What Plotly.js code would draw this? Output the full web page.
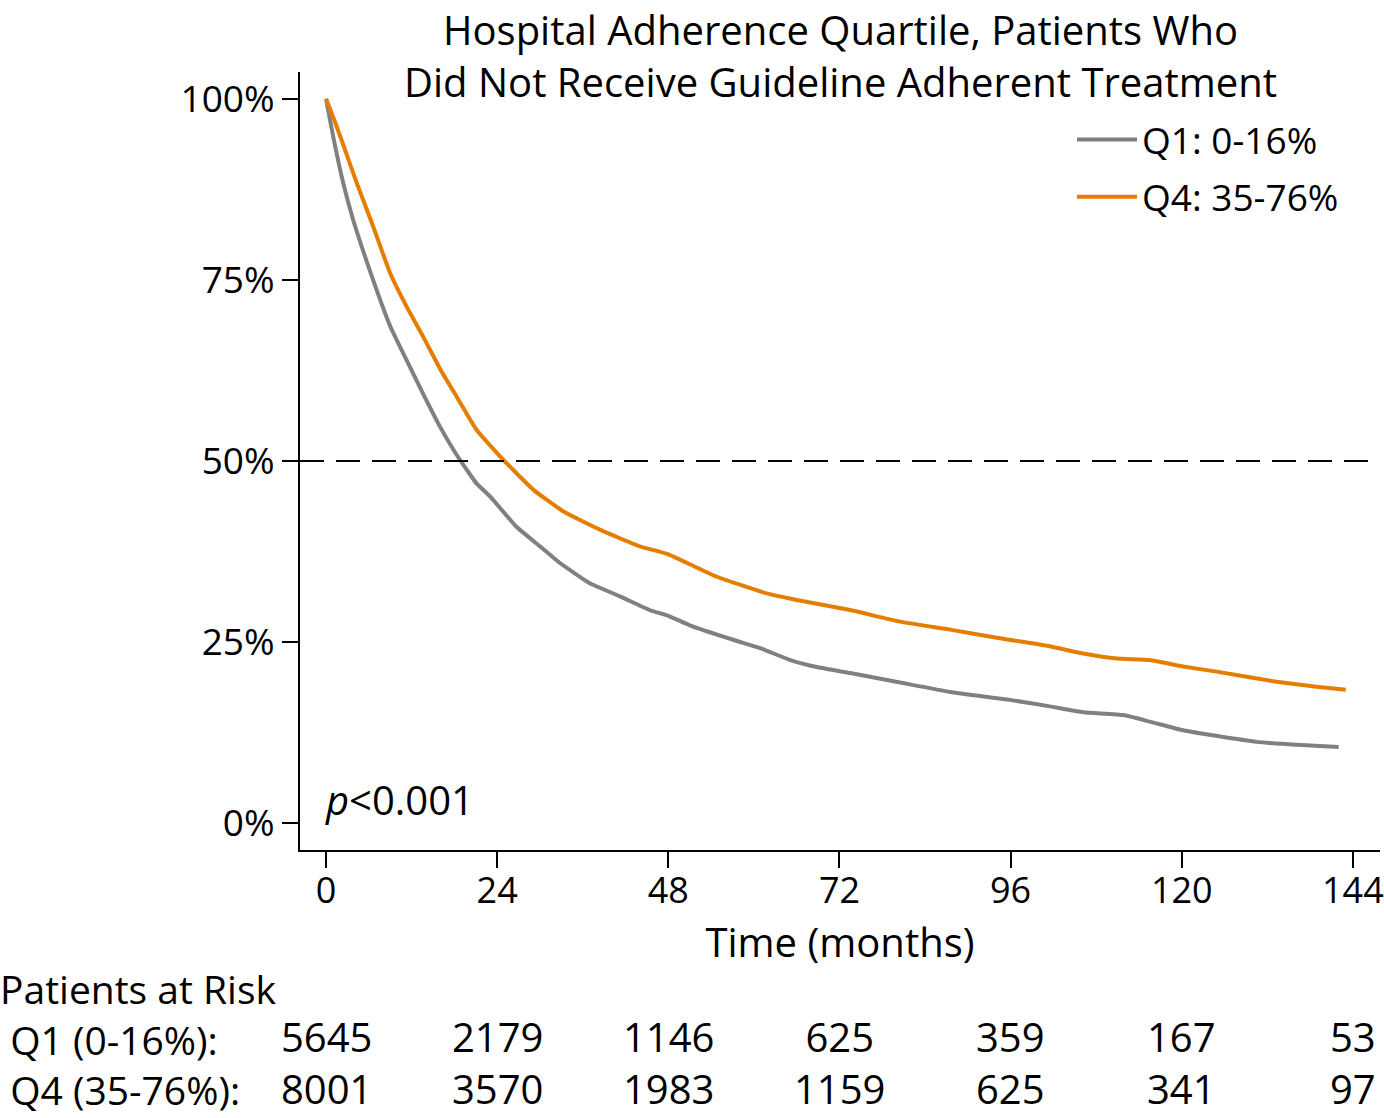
<!DOCTYPE html>
<html>
<head>
<meta charset="utf-8">
<script src="https://cdn.plot.ly/plotly-3.0.1.min.js"></script>
<style>html,body{margin:0;padding:0;background:#fff;}#chart{width:1384px;height:1118px;}</style>
</head>
<body>
<div id="chart"></div>
<script>
// Survival curves (time in months, survival in %)
const q1Time = [0, 1, 2.4, 3.8, 6.6, 9, 11.3, 13.6, 16, 18.6, 21.1, 23, 26.7, 30, 32.8, 37, 41.2, 45.4, 48, 51, 57.1, 61, 65.1, 69, 73.5, 80.5, 87.5, 95.9, 101.5, 106.2, 111.8, 115.5, 120.2, 125, 130.5, 136.1, 142];
const q1Surv = [100, 94.8, 88.4, 83.3, 75.0, 68.6, 63.9, 59.3, 54.7, 50.4, 46.9, 45.1, 40.9, 38.2, 35.9, 33.1, 31.3, 29.4, 28.6, 27.3, 25.3, 24.1, 22.5, 21.5, 20.7, 19.4, 18.1, 17.0, 16.1, 15.3, 14.9, 14.0, 12.8, 12.0, 11.2, 10.8, 10.5];
const q4Time = [0, 1, 2, 4.3, 6.6, 9, 11.3, 13.6, 16, 18.3, 21.1, 24.9, 29.1, 33.3, 38.4, 44, 48, 54.8, 61.8, 66, 73.5, 80.5, 87.5, 94.5, 101.5, 106.2, 110.9, 115.5, 120.2, 124.9, 133.3, 138.9, 143];
const q4Surv = [100, 97.5, 94.8, 88.4, 82.4, 75.9, 71.3, 67.2, 62.7, 58.9, 54.3, 50.1, 46.0, 43.0, 40.5, 38.2, 37.1, 34.0, 31.7, 30.8, 29.4, 27.8, 26.7, 25.5, 24.4, 23.4, 22.7, 22.5, 21.6, 20.9, 19.5, 18.8, 18.4];

const seriesNames = ["Q1: 0-16%", "Q4: 35-76%"];
const titleLines = ["Hospital Adherence Quartile, Patients Who", "Did Not Receive Guideline Adherent Treatment"];
const riskHeader = "Patients at Risk";
const riskLabels = ["Q1 (0-16%):", "Q4 (35-76%):"];
const riskTimes = [0, 24, 48, 72, 96, 120, 144];
const riskQ1 = [5645, 2179, 1146, 625, 359, 167, 53];
const riskQ4 = [8001, 3570, 1983, 1159, 625, 341, 97];
const xTicks = [0, 24, 48, 72, 96, 120, 144];
const yTicks = [0, 25, 50, 75, 100];
const yTickText = ["0%", "25%", "50%", "75%", "100%"];

const FONT = "Open Sans, Noto Sans, sans-serif";
const GRAY = "#808080";
const ORANGE = "#E57E00";

const traces = [
  {x: q1Time, y: q1Surv, name: seriesNames[0], mode: "lines", line: {color: GRAY, width: 4, shape: "spline", smoothing: 0.4}, legendgroup: "a"},
  {x: q4Time, y: q4Surv, name: seriesNames[1], mode: "lines", line: {color: ORANGE, width: 4, shape: "spline", smoothing: 0.4}, legendgroup: "b"}
];

const PH = 778; // plot height in px
const py = p => (850 - p) / PH; // pixel row -> paper y
const px = p => (p - 300) / 1080; // pixel column -> paper x

const annotations = [];
// Two-line title
annotations.push({xref: "paper", yref: "paper", x: px(840), y: py(0), xanchor: "center", yanchor: "top", align: "center", text: titleLines.join("<br>"), showarrow: false, font: {family: FONT, size: 40, color: "#000"}});
// Risk table: label column
annotations.push({xref: "paper", yref: "paper", x: px(-2), y: py(1118), xanchor: "left", yanchor: "bottom", align: "left", text: [riskHeader].concat(riskLabels.map(s => "&nbsp;" + s)).join("<br>"), showarrow: false, font: {family: FONT, size: 39, color: "#000"}});
// Risk table: value columns
for (let i = 0; i < riskTimes.length; i++) {
  annotations.push({xref: "x", yref: "paper", x: riskTimes[i], y: py(1118), xanchor: "center", yanchor: "bottom", align: "center", text: riskQ1[i] + "<br>" + riskQ4[i], showarrow: false, font: {family: FONT, size: 40, color: "#000"}});
}
annotations.push({xref: "x", yref: "y", x: -0.4, y: 3.2, xanchor: "left", yanchor: "middle", text: "<i>p</i><0.001", showarrow: false, font: {family: FONT, size: 40, color: "#000"}});

const layout = {
  width: 1384, height: 1118,
  paper_bgcolor: "#fff", plot_bgcolor: "#fff",
  margin: {l: 300, r: 4, t: 72, b: 268},
  font: {family: FONT, color: "#000"},
  xaxis: {range: [-3.65, 147.8], tickvals: xTicks, ticktext: xTicks.map(String), ticks: "outside", ticklen: 16, tickwidth: 2, tickcolor: "#000", showline: true, linecolor: "#000", linewidth: 2, showgrid: false, zeroline: false, tickfont: {family: FONT, size: 36}, ticklabeloverflow: "allow", ticklabelstandoff: -8, title: {text: "Time (months)", font: {family: FONT, size: 40}, standoff: 0}},
  yaxis: {range: [-3.73, 103.7], tickvals: yTicks, ticktext: yTickText, ticks: "outside", ticklen: 16, tickwidth: 2, tickcolor: "#000", showline: true, linecolor: "#000", linewidth: 2, showgrid: false, zeroline: false, tickfont: {family: FONT, size: 37}},
  shapes: [{type: "line", xref: "paper", x0: 0, x1: 1, yref: "y", y0: 50, y1: 50, line: {color: "#000", width: 2, dash: "24px,12px"}}],
  legend: {x: px(1072), y: py(109), xanchor: "left", yanchor: "top", bgcolor: "rgba(0,0,0,0)", font: {family: FONT, size: 37, color: "#000"}, tracegroupgap: 6, traceorder: "grouped", itemwidth: 60},
  annotations: annotations,
  showlegend: true
};

Plotly.newPlot("chart", traces, layout, {displayModeBar: false, staticPlot: true});
</script>
</body>
</html>
